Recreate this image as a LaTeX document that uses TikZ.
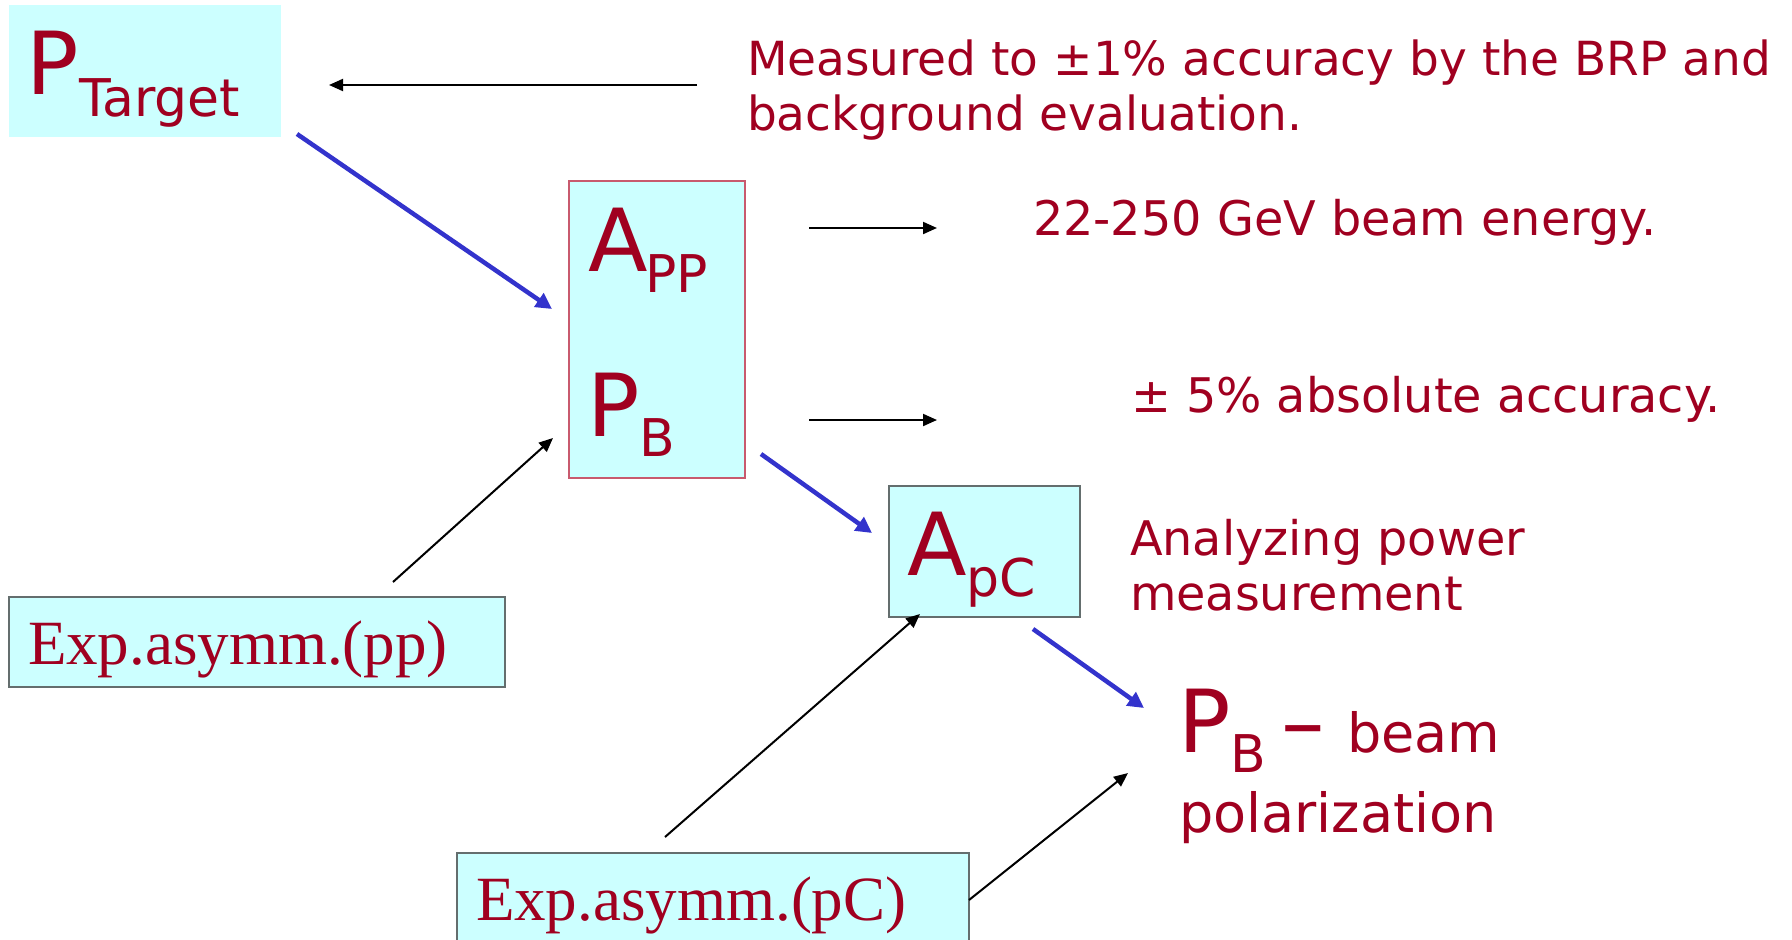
\documentclass[tikz,border=0pt]{standalone}
\usepackage{fontspec}
\setmainfont{DejaVu Sans}
\newfontfamily\tnr{Liberation Serif}
\usetikzlibrary{arrows.meta}
\definecolor{crim}{RGB}{160,0,32}
\definecolor{boxcyan}{RGB}{204,255,255}
\definecolor{arrblue}{RGB}{51,51,204}
\definecolor{boxgray}{RGB}{100,110,110}
\definecolor{boxpink}{RGB}{200,90,110}
\begin{document}
\begin{tikzpicture}[x=1pt,y=-1pt,
  lbl/.style={anchor=base west, inner sep=0, outer sep=0, text=crim},
  big/.style={lbl, font=\fontsize{87}{87}\selectfont},
  subs/.style={lbl, font=\fontsize{52}{52}\selectfont},
  txt/.style={lbl, font=\fontsize{47.7}{55}\selectfont},
  toptxt/.style={lbl, font=\fontsize{47}{55}\selectfont},
  mid/.style={lbl, font=\fontsize{54}{60}\selectfont},
  serif/.style={lbl, font=\fontsize{63}{63}\selectfont\tnr},
  panel/.style={anchor=north west, inner sep=0, outer sep=0, fill=boxcyan},
  thinarrow/.style={draw=black, line width=2pt, -{Triangle[length=14pt,width=12pt]}},
  bluearrow/.style={draw=arrblue, line width=4.5pt, -{Triangle[length=16pt,width=16pt]}}
]
\useasboundingbox (0,0) rectangle (1792,940);

% boxes
\node[panel, minimum width=272pt, minimum height=132pt] (ptbox) at (9,5) {};
\node[panel, draw=boxpink, line width=1.5pt, minimum width=176pt, minimum height=297pt] (appbox) at (569,181) {};
\node[panel, draw=boxgray, line width=1.5pt, minimum width=191pt, minimum height=131pt] (apcbox) at (889,486) {};
\node[panel, draw=boxgray, line width=1.5pt, minimum width=496pt, minimum height=90pt] (ppbox) at (9,597) {};
\node[panel, draw=boxgray, line width=1.5pt, minimum width=512pt, minimum height=100pt] (pcbox) at (457,853) {};

% box labels
\node[big] (ptP) at (26,94) {P};
\node[subs] (ptT) at (79,116) {Target};
\node[big] (appA) at (588,271) {A};
\node[subs] (appS) at (645,292) {PP};
\node[big] (pbP) at (587,436) {P};
\node[subs] (pbB) at (639,456) {B};
\node[big] (apcA) at (907,575) {A};
\node[subs] (apcS) at (966,596) {pC};
\node[serif] (pptxt) at (28,664) {Exp.asymm.(pp)};
\node[serif] (pctxt) at (476,920) {Exp.asymm.(pC)};

% result
\node[big] (resP) at (1178,752) {P};
\node[subs] (resB) at (1230,772) {B};
\node[big] (resD) at (1281,752) {–};
\node[mid] (resbeam) at (1347,752) {beam};
\node[mid] (respol) at (1179,832) {polarization};

% side texts
\node[toptxt] (meas1) at (747,75) {Measured to ±1\% accuracy by the BRP and};
\node[toptxt] (meas2) at (747,130) {background evaluation.};
\node[txt] (energy) at (1033,235) {22-250 GeV beam energy.};
\node[txt] (acc) at (1131,412) {± 5\% absolute accuracy.};
\node[txt] (anal1) at (1130,555) {Analyzing power};
\node[txt] (anal2) at (1130,610) {measurement};

% connector end points
\coordinate (a1s) at (697,85);  \coordinate (a1e) at (329,85);
\coordinate (b1s) at (297,134); \coordinate (b1e) at (552,309);
\coordinate (a2s) at (809,228); \coordinate (a2e) at (937,228);
\coordinate (a3s) at (809,420); \coordinate (a3e) at (937,420);
\coordinate (a4s) at (393,582); \coordinate (a4e) at (553,438);
\coordinate (b2s) at (761,454); \coordinate (b2e) at (872,533);
\coordinate (b3s) at (1033,629); \coordinate (b3e) at (1144,708);
\coordinate (a5s) at (665,837); \coordinate (a5e) at (920,614);
\coordinate (a6s) at (969,900); \coordinate (a6e) at (1128,773);

\draw[thinarrow] (a1s) -- (a1e);
\draw[thinarrow] (a2s) -- (a2e);
\draw[thinarrow] (a3s) -- (a3e);
\draw[thinarrow] (a4s) -- (a4e);
\draw[thinarrow] (a5s) -- (a5e);
\draw[thinarrow] (a6s) -- (a6e);
\draw[bluearrow] (b1s) -- (b1e);
\draw[bluearrow] (b2s) -- (b2e);
\draw[bluearrow] (b3s) -- (b3e);
\end{tikzpicture}
\end{document}
